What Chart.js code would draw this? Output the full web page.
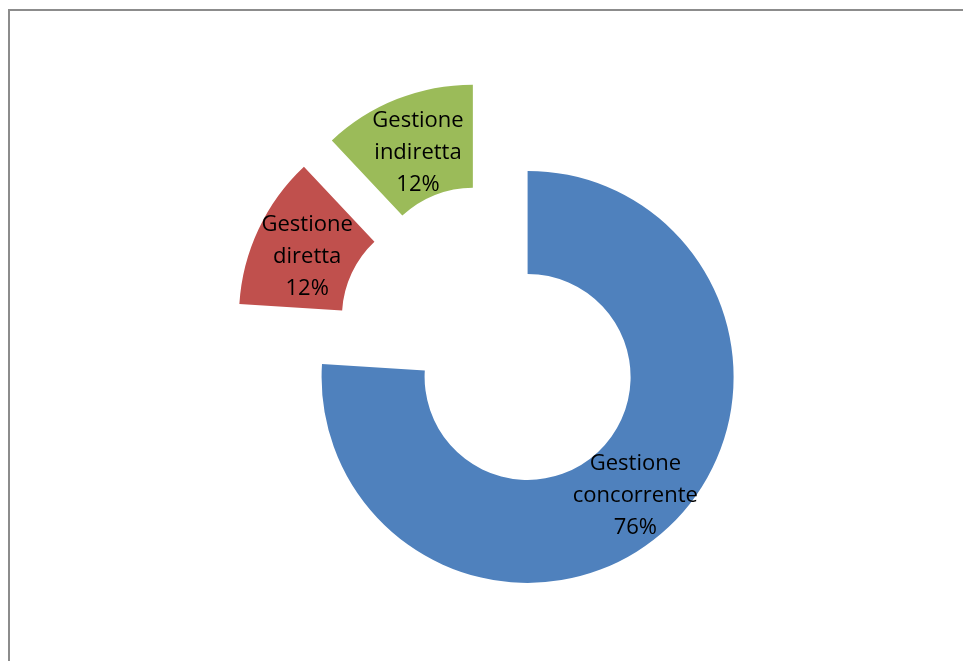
<!DOCTYPE html>
<html>
<head>
<meta charset="utf-8">
<script src="https://cdn.jsdelivr.net/npm/chart.js@4"></script>
<style>
  html, body { margin: 0; padding: 0; background: #fff; }
  #wrap { width: 963px; height: 661px; }
</style>
</head>
<body>
<div id="wrap"><canvas id="pie-chart" width="963" height="661"></canvas></div>
<script>
var categories = ["Gestione concorrente", "Gestione diretta", "Gestione indiretta"];
var labelLines = [["Gestione", "concorrente"], ["Gestione", "diretta"], ["Gestione", "indiretta"]];
var values = [76, 12, 12];
var colors = ["#4F81BD", "#C0504D", "#9BBB59"];
var explode = 52; // px every slice is pulled out of the centre

// frame around the chart
var framePlugin = {
  id: 'frame',
  beforeDraw: function(chart) {
    var ctx = chart.ctx;
    ctx.save();
    ctx.strokeStyle = "#8c8c8c";
    ctx.lineWidth = 2;
    ctx.strokeRect(9, 10, 980, 700);
    ctx.restore();
  }
};

// exploded doughnut: move each arc's centre out along its mid angle
var explodePlugin = {
  id: 'explode',
  afterDatasetUpdate: function(chart, args) {
    var meta = chart.getDatasetMeta(args.index);
    meta.data.forEach(function(arc) {
      var mid = (arc.startAngle + arc.endAngle) / 2;
      arc.x += Math.cos(mid) * explode;
      arc.y += Math.sin(mid) * explode;
    });
  }
};

// labels in the middle of each slice
var labelPlugin = {
  id: 'sliceLabels',
  afterDatasetsDraw: function(chart) {
    var ctx = chart.ctx;
    var meta = chart.getDatasetMeta(0);
    var total = values.reduce(function(a, b) { return a + b; }, 0);
    ctx.save();
    ctx.font = "22px 'Open Sans'";
    ctx.fillStyle = "#000";
    ctx.textAlign = "center";
    ctx.textBaseline = "middle";
    meta.data.forEach(function(arc, i) {
      var mid = (arc.startAngle + arc.endAngle) / 2;
      var r = (arc.innerRadius + arc.outerRadius) / 2;
      var cx = arc.x + Math.cos(mid) * r + 2;
      var cy = arc.y + Math.sin(mid) * r + 6;
      var lines = labelLines[i].concat([Math.round(values[i] / total * 100) + "%"]);
      var lh = 32;
      lines.forEach(function(t, k) {
        ctx.fillText(t, cx, cy + (k - (lines.length - 1) / 2) * lh);
      });
    });
    ctx.restore();
  }
};

var ctx = document.getElementById("pie-chart").getContext("2d");
new Chart(ctx, {
  type: "doughnut",
  data: {
    labels: categories,
    datasets: [{
      data: values,
      backgroundColor: colors,
      borderWidth: 0,
      hoverOffset: 0
    }]
  },
  options: {
    responsive: false,
    animation: false,
    events: [],
    cutout: "50%",
    radius: 206,
    layout: {
      padding: { left: 100, right: 79, top: 60, bottom: 43 }
    },
    plugins: {
      legend: { display: false },
      tooltip: { enabled: false }
    }
  },
  plugins: [framePlugin, explodePlugin, labelPlugin]
});
</script>
</body>
</html>
